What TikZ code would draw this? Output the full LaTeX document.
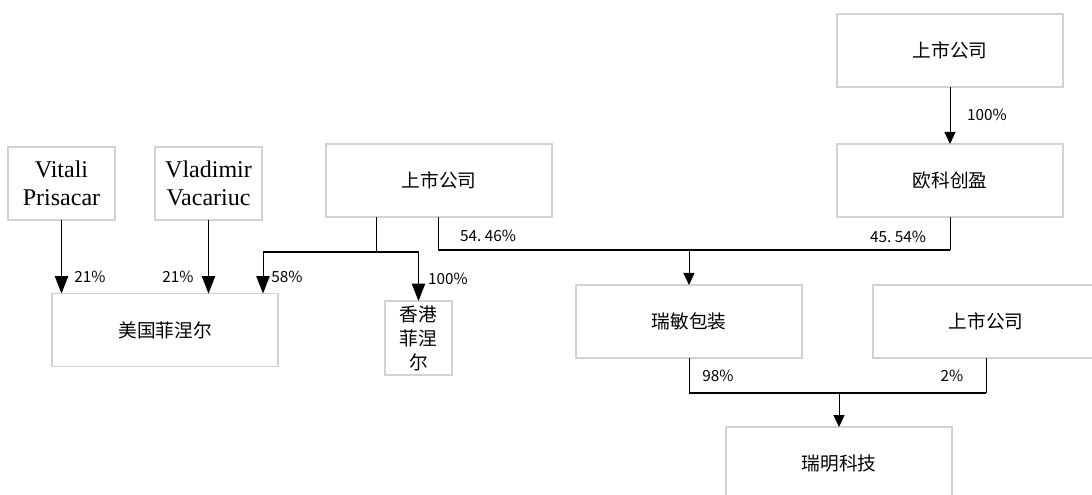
\documentclass[tikz,border=0pt]{standalone}
\usepackage{fontspec}
\setmainfont{Noto Sans CJK SC}
\newfontfamily\namefont{Liberation Serif}
\usetikzlibrary{arrows.meta}
\definecolor{boxgray}{HTML}{D2D2D2}
\begin{document}
\begin{tikzpicture}[x=0.75pt,y=-0.75pt,
  base/.style={draw=boxgray, line width=0.8pt, inner sep=0pt, outer sep=0pt, align=center,
               font=\fontsize{14}{18}\selectfont},
  wide/.style={base, minimum width=169.5pt, minimum height=54.75pt},
  person/.style={base, minimum width=80.25pt, minimum height=54.75pt,
               font=\namefont\fontsize{18}{21}\selectfont},
  narrow/.style={base, minimum width=50.25pt, minimum height=55.5pt},
  link/.style={line width=0.75pt},
  bar/.style={line width=1.3pt},
  bigarr/.style={line width=0.75pt, -{Triangle[width=10pt,length=13pt]}},
  smallarr/.style={line width=0.75pt, -{Triangle[width=8.25pt,length=9pt]}},
  pct/.style={inner sep=0pt, font=\fontsize{11.5}{13}\selectfont}
]
\useasboundingbox (0,0) rectangle (1092,495);

% nodes
\node[person] (vp) at (61.5,183.5) {Vitali\\Prisacar};
\node[person] (vv) at (208.5,183.5) {Vladimir\\Vacariuc};
\node[wide] (lc1) at (439,180.5) {上市公司};
\node[wide] (lc2) at (950,50.5) {上市公司};
\node[wide] (ok) at (950,180.5) {欧科创盈};
\node[wide] (us) at (165,330) {美国菲涅尔};
\node[narrow] (hk) at (418.5,338) {香港\\菲涅\\尔};
\node[wide] (rm) at (689,321.5) {瑞敏包装};
\node[wide] (lc3) at (986,321.5) {上市公司};
\node[wide] (rmt) at (839,463.5) {瑞明科技};

% junction coordinates
\coordinate (j1) at (376,252);
\coordinate (u58) at (263,252);
\coordinate (j2) at (438,250);
\coordinate (j3) at (689,393);

% Vitali and Vladimir
\draw[bigarr] (vp.south) -- (vp.south |- us.north);
\draw[bigarr] (vv.south) -- (vv.south |- us.north);

% left listed company branches
\draw[link] (lc1.south -| j1) -- (j1);
\draw[bar] (u58) -- (j1 -| hk.north);
\draw[bigarr] (u58) -- (u58 |- us.north);
\draw[bigarr] (j1 -| hk.north) -- (hk.north);

% 54.46 / 45.54 to Ruimin
\draw[link] (lc1.south -| j2) -- (j2);
\draw[link] (ok.south) -- (ok.south |- j2);
\draw[bar] (j2) -- (ok.south |- j2);
\draw[smallarr] (rm.north |- j2) -- (rm.north);

% 100% top
\draw[smallarr] (lc2.south) -- (ok.north);

% 98 / 2 to Ruiming
\draw[link] (rm.south) -- (j3);
\draw[link] (lc3.south) -- (lc3.south |- j3);
\draw[bar] (j3) -- (lc3.south |- j3);
\draw[smallarr] (rmt.north |- j3) -- (rmt.north);

% labels
\node[pct] (p1) at (90,277) {21\%};
\node[pct] (p2) at (178,277) {21\%};
\node[pct] (p3) at (287,277) {58\%};
\node[pct] (p4) at (448,279) {100\%};
\node[pct] (p5) at (488,236) {54.~46\%};
\node[pct] (p6) at (898,237) {45.~54\%};
\node[pct] (p7) at (987,115) {100\%};
\node[pct] (p8) at (718,376) {98\%};
\node[pct] (p9) at (952,376) {2\%};
\end{tikzpicture}
\end{document}
